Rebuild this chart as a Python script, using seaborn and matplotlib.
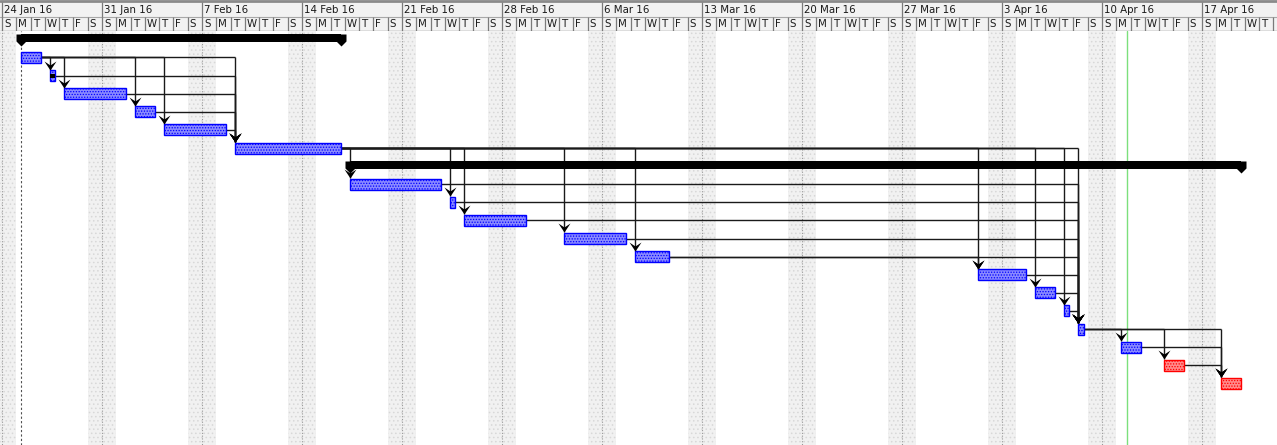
import matplotlib
matplotlib.use("Agg")
import numpy as np
import pandas as pd
import matplotlib.pyplot as plt
import matplotlib.dates as mdates
from matplotlib.path import Path
from matplotlib.markers import MarkerStyle
import seaborn as sns

# ---------------- data ----------------
task_rows = list(range(20))
task_type = ["summary"] + ["task"] * 6 + ["summary"] + ["task"] * 12
task_start = [
    "2016-01-25 08:00", "2016-01-25 08:00", "2016-01-27 08:00", "2016-01-28 08:00",
    "2016-02-02 08:00", "2016-02-04 08:00", "2016-02-09 08:00",
    "2016-02-17 08:00", "2016-02-17 08:00", "2016-02-24 08:00", "2016-02-25 08:00",
    "2016-03-03 08:00", "2016-03-08 08:00", "2016-04-01 08:00", "2016-04-05 08:00",
    "2016-04-07 08:00", "2016-04-08 08:00", "2016-04-11 08:00", "2016-04-14 08:00",
    "2016-04-18 08:00"]
task_finish = [
    "2016-02-16 17:00", "2016-01-26 17:00", "2016-01-27 17:00", "2016-02-01 17:00",
    "2016-02-03 17:00", "2016-02-08 17:00", "2016-02-16 17:00",
    "2016-04-19 17:00", "2016-02-23 17:00", "2016-02-24 17:00", "2016-02-29 17:00",
    "2016-03-07 17:00", "2016-03-10 17:00", "2016-04-04 17:00", "2016-04-06 17:00",
    "2016-04-07 17:00", "2016-04-08 17:00", "2016-04-12 17:00", "2016-04-15 17:00",
    "2016-04-19 17:00"]
task_critical = [False] * 18 + [True, True]
task_progress = [0, 0, 1.0] + [0] * 17

link_from = [1, 1, 1, 1, 1, 2, 3, 4, 5,
             6, 6, 6, 6, 6, 6, 6, 6, 6,
             8, 9, 10, 11, 12, 12, 13, 14, 15,
             16, 16, 16, 17, 18]
link_to = [2, 3, 4, 5, 6, 6, 6, 6, 6,
           8, 9, 10, 11, 12, 13, 14, 15, 16,
           16, 16, 16, 16, 13, 16, 16, 16, 16,
           17, 18, 19, 19, 19]

week_labels = ["24 Jan 16", "31 Jan 16", "7 Feb 16", "14 Feb 16", "21 Feb 16",
               "28 Feb 16", "6 Mar 16", "13 Mar 16", "20 Mar 16", "27 Mar 16",
               "3 Apr 16", "10 Apr 16", "17 Apr 16"]
day_letters = ["S", "M", "T", "W", "T", "F", "S"]
timescale_start = "2016-01-24"
project_start = "2016-01-25 08:00"
status_date = "2016-04-11 17:30"

# ---------------- style / geometry ----------------
sns.set_theme(style="white")
plt.rcParams["font.family"] = ["DejaVu Sans"]
plt.rcParams["hatch.linewidth"] = 0.6

W, H, DPI = 1277, 445, 100
HEADER_PX = 31
PX_PER_DAY = 100 / 7.0
ROW_PX = 18.1
ROW0_PX = 39.4 - HEADER_PX
BODY_PX = H - HEADER_PX

t0 = mdates.date2num(pd.Timestamp(timescale_start))
x_lo = t0 - 2 / PX_PER_DAY
x_hi = x_lo + W / PX_PER_DAY
px = lambda p: p / PX_PER_DAY  # px -> days

starts = mdates.date2num(pd.to_datetime(task_start))
finishes = mdates.date2num(pd.to_datetime(task_finish))

fig = plt.figure(figsize=(W / DPI, H / DPI), dpi=DPI)
ax_h = fig.add_axes([0, 1 - HEADER_PX / H, 1, HEADER_PX / H])
ax = fig.add_axes([0, 0, 1, BODY_PX / H])

# ---------------- header ----------------
ax_h.set_xlim(x_lo, x_hi)
ax_h.set_ylim(HEADER_PX, 0)
ax_h.set_facecolor("#F2F2F2")
for s in ax_h.spines.values():
    s.set_visible(False)
ax_h.set_xticks([])
ax_h.set_yticks([])
ax_h.axhline(0.8, color="#8A8A8A", lw=2.0)
ax_h.axhline(16.5, color="#A8A8A8", lw=0.8)
ax_h.axhline(30.5, color="#8A8A8A", lw=1.0)

n_days = int(np.ceil(x_hi - t0)) + 1
day_pos = t0 + np.arange(n_days)
week_pos = t0 + 7 * np.arange(len(week_labels))
ax_h.vlines(week_pos, 2, 16.5, color="#7A7A7A", lw=0.9)
ax_h.vlines(day_pos, 16.5, 30.5, color="#7A7A7A", lw=0.9)
for xp, lab in zip(week_pos, week_labels):
    ax_h.text(xp + px(2), 9.6, lab, fontsize=7.4, va="center", ha="left", color="#1A1A1A")
for i, xp in enumerate(day_pos):
    if xp + px(10) < x_hi:
        ax_h.text(xp + px(2), 23.8, day_letters[i % 7], fontsize=7.4, va="center",
                  ha="left", color="#1A1A1A")

# ---------------- body ----------------
ax.set_xlim(x_lo, x_hi)
ax.set_ylim((BODY_PX - ROW0_PX) / ROW_PX, -ROW0_PX / ROW_PX)
ax.set_facecolor("white")
for s in ax.spines.values():
    s.set_visible(False)
ax.set_xticks([])
ax.set_yticks([])

# weekends (Sat 00:00 -> Mon 00:00)
for k in range(-1, n_days // 7 + 2):
    sat = t0 - 1 + 7 * k
    ax.axvspan(sat, sat + 2, facecolor="#F1F1F1", edgecolor="#D8D8D8", lw=0,
               hatch="....", zorder=0)
# week boundary dotted lines
ax.vlines(week_pos, -5, 30, color="#9A9A9A", lw=0.8, linestyles=(0, (1, 1.5)), zorder=1)
# project start line
ax.axvline(mdates.date2num(pd.Timestamp(project_start)), color="#505050", lw=0.8,
           linestyle=(0, (2, 2)), zorder=1)
# status date line
ax.axvline(mdates.date2num(pd.Timestamp(status_date)), color="#7CE07C", lw=1.0, zorder=1)

BAR_H = 11 / ROW_PX
SUM_H = 8 / ROW_PX

# links
arrow_x, arrow_y = [], []
for p, s in zip(link_from, link_to):
    xe, xs = finishes[p], starts[s]
    ax.plot([xe, xs], [p, p], color="#1A1A1A", lw=1.0, zorder=2, solid_capstyle="butt")
    ytip = s - BAR_H / 2 - 0.03
    ax.plot([xs, xs], [p, ytip], color="#1A1A1A", lw=1.0, zorder=2, solid_capstyle="butt")
    arrow_x.append(xs)
    arrow_y.append(ytip)

# task bars
for r in task_rows:
    if task_type[r] == "task":
        fc, ec = ("#FF8A8A", "#FF0000") if task_critical[r] else ("#8A8AFF", "#0000FF")
        ax.barh(r, finishes[r] - starts[r], left=starts[r], height=BAR_H,
                color=fc, edgecolor=ec, lw=1.0, hatch="......", zorder=3)
        if task_progress[r] > 0:
            ax.barh(r, (finishes[r] - starts[r]) * task_progress[r], left=starts[r],
                    height=4 / ROW_PX, color="black", lw=0, zorder=4)
    else:
        ax.barh(r - 1.5 / ROW_PX, finishes[r] - starts[r], left=starts[r], height=SUM_H,
                color="black", lw=0, zorder=3)

# summary caps
cap_path = Path([(-5, 4), (5, 4), (5, -3), (0, -8), (-5, -3), (-5, 4)],
                [Path.MOVETO, Path.LINETO, Path.LINETO, Path.LINETO, Path.LINETO,
                 Path.CLOSEPOLY])
cap_ms = 2 * 8 * 72 / DPI
sum_rows = [r for r in task_rows if task_type[r] == "summary"]
cap_df = pd.DataFrame({
    "x": [starts[r] for r in sum_rows] + [finishes[r] for r in sum_rows],
    "y": [r - 1.5 / ROW_PX for r in sum_rows] * 2})
sns.scatterplot(data=cap_df, x="x", y="y", ax=ax, marker=MarkerStyle(cap_path),
                s=cap_ms ** 2, color="black", linewidth=0, zorder=4, legend=False)

# arrowheads
arrow_path = Path([(0, 0), (-6, 9), (0, 5), (6, 9), (0, 0)],
                  [Path.MOVETO, Path.LINETO, Path.LINETO, Path.LINETO, Path.CLOSEPOLY])
arr_ms = 2 * 9 * 72 / DPI
arr_df = pd.DataFrame({"x": arrow_x, "y": arrow_y})
sns.scatterplot(data=arr_df, x="x", y="y", ax=ax, marker=MarkerStyle(arrow_path),
                s=arr_ms ** 2, color="black", linewidth=0, zorder=5, legend=False)

ax.set_xlabel("")
ax.set_ylabel("")
ax.set_xlim(x_lo, x_hi)
ax.set_ylim((BODY_PX - ROW0_PX) / ROW_PX, -ROW0_PX / ROW_PX)

fig.savefig("out.png", dpi=DPI)
